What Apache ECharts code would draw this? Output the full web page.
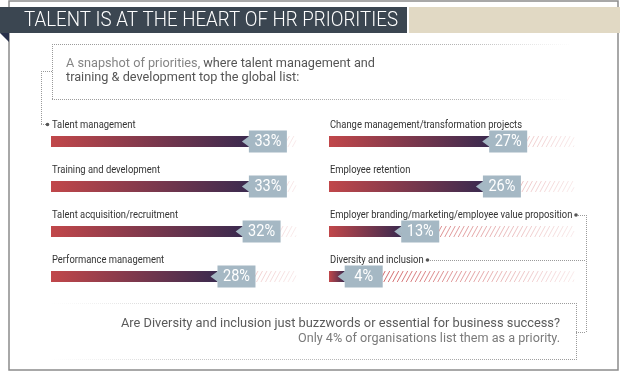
<!DOCTYPE html>
<html><head><meta charset="utf-8">
<script src="https://cdn.jsdelivr.net/npm/echarts@6/dist/echarts.min.js"></script>
<style>html,body{margin:0;padding:0;background:#fff}#c{width:620px;height:372px}</style>
</head><body><div id="c"></div>
<script>
// ---- data ----
const leftCategories = ['Talent management', 'Training and development', 'Talent acquisition/recruitment', 'Performance management'];
const leftValues = [33, 33, 32, 28];
const rightCategories = ['Change management/transformation projects', 'Employee retention', 'Employer branding/marketing/employee value proposition', 'Diversity and inclusion'];
const rightValues = [27, 26, 13, 4];
const titleText = 'TALENT IS AT THE HEART OF HR PRIORITIES';
const subtitleLead = 'A snapshot of priorities, ';
const subtitleRest1 = 'where talent management and';
const subtitleLine2 = 'training & development top the global list:';
const noteLine1 = 'Are Diversity and inclusion just buzzwords or essential for business success?';
const noteLine2 = 'Only 4% of organisations list them as a priority.';

// ---- scales ----
const axisMin = 1.5, axisMax = 40.5;
const FONT = 'Roboto, "Liberation Sans", sans-serif';

const mctx = document.createElement('canvas').getContext('2d');
function fitScale(text, font, w) { mctx.font = font; return w / mctx.measureText(text).width; }

const labelFont = '10.5px ' + FONT;
const labelScale = fitScale('Change management/transformation projects', labelFont, 192);
const valueFont = '17px ' + FONT;
const valueScale = fitScale('33%', valueFont, 27);

function makeRender(cats) {
  return function (params, api) {
    const idx = api.value(1);
    const v = api.value(0);
    const s = api.coord([axisMin, idx]);
    const e = api.coord([v, idx]);
    const t = api.coord([axisMax, idx]);
    const yc = s[1], h = 11, y0 = yc - h / 2, y1 = yc + h / 2;
    const ch = [];
    // hatched remainder, fading to the right
    const step = 4.5, slant = 6, k = h / slant;
    const startX = e[0], endX = t[0];
    for (let x = startX - slant; x < endX; x += step) {
      let bx = x, by = y1, tx = x + slant, ty = y0;
      if (bx < startX) { by = y1 - (startX - bx) * k; bx = startX; }
      if (tx > endX) { ty = y0 + (tx - endX) * k; tx = endX; }
      if (tx <= bx) continue;
      const r = Math.min(1, Math.max(0, ((bx + tx) / 2 - s[0]) / (t[0] - s[0])));
      const a = Math.max(0.08, 0.95 - 0.85 * r);
      ch.push({ type: 'line', shape: { x1: bx, y1: by, x2: tx, y2: ty },
        style: { stroke: 'rgba(196,60,62,' + a.toFixed(3) + ')', lineWidth: 1 } });
    }
    // gradient bar
    ch.push({ type: 'rect', shape: { x: s[0], y: y0, width: Math.max(0, e[0] - s[0]), height: h },
      style: { fill: { type: 'linear', x: 0, y: 0, x2: 1, y2: 0,
        colorStops: [{ offset: 0, color: '#c1474a' }, { offset: 1, color: '#3b2a4f' }] } } });
    // arrow + box
    ch.push({ type: 'polygon', shape: { points: [[e[0] - 7, yc], [e[0] + 0.5, yc - 5.5], [e[0] + 0.5, yc + 5.5]] },
      style: { fill: '#a5b8c4' } });
    ch.push({ type: 'rect', shape: { x: e[0], y: yc - 11, width: 38, height: 22 }, style: { fill: '#a5b8c4' } });
    ch.push({ type: 'text', x: e[0] + 19, y: yc + 0.5, scaleX: valueScale,
      style: { text: v + '%', x: 0, y: 0, fill: '#ffffff', font: valueFont,
        align: 'center', verticalAlign: 'middle', textAlign: 'center', textVerticalAlign: 'middle' } });
    // category label
    ch.push({ type: 'text', x: s[0] + 1, y: yc - 16.5, scaleX: labelScale,
      style: { text: cats[idx], x: 0, y: 0, fill: '#333333', font: labelFont,
        align: 'left', verticalAlign: 'middle', textAlign: 'left', textVerticalAlign: 'middle' } });
    return { type: 'group', children: ch };
  };
}

const dot = { lineDash: [1, 1], stroke: '#9a9a9a', lineWidth: 1 };
function hline(x1, x2, y, style) { return { type: 'line', shape: { x1: x1, y1: y, x2: x2, y2: y }, style: Object.assign({}, dot, style || {}), silent: true }; }
function vline(x, y1, y2) { return { type: 'line', shape: { x1: x, y1: y1, x2: x, y2: y2 }, style: Object.assign({}, dot), silent: true }; }
const fadeRight = { type: 'linear', x: 0, y: 0, x2: 1, y2: 0, colorStops: [{ offset: 0, color: '#9a9a9a' }, { offset: 0.8, color: '#b5b5b5' }, { offset: 1, color: 'rgba(200,200,200,0)' }] };
const fadeLeft = { type: 'linear', x: 0, y: 0, x2: 1, y2: 0, colorStops: [{ offset: 0, color: 'rgba(220,220,220,0)' }, { offset: 0.25, color: '#c8c8c8' }, { offset: 1, color: '#9a9a9a' }] };

const titleFont = '300 20px ' + FONT;
const sub1Font = '12px ' + FONT;
const note1Font = '13px ' + FONT;
const note2Font = '12px ' + FONT;

const graphics = [
  { type: 'rect', shape: { x: 9, y: 1, width: 609, height: 369 }, style: { fill: 'none', stroke: '#8c8c8c', lineWidth: 1.5 }, silent: true },
  { type: 'rect', shape: { x: 0, y: 7, width: 407, height: 26 }, style: { fill: '#3b4651' } },
  { type: 'rect', shape: { x: 409, y: 7, width: 211, height: 26 }, style: { fill: '#e1d9c4' } },
  { type: 'polygon', shape: { points: [[0, 33], [9, 33], [9, 42]] }, style: { fill: '#27304a' } },
  { type: 'text', x: 24, y: 20.5, scaleX: fitScale(titleText, titleFont, 374),
    style: { text: titleText, fill: '#ffffff', font: titleFont, textVerticalAlign: 'middle', verticalAlign: 'middle' } },
  // subtitle box
  hline(52, 570, 44.5, { stroke: fadeRight }),
  hline(52, 570, 99.5, { stroke: fadeRight }),
  vline(52.5, 44, 99),
  hline(41, 52, 71.5),
  vline(41.5, 71, 124),
  hline(41, 46, 124.5),
  { type: 'circle', shape: { cx: 47.5, cy: 124.5, r: 1.8 }, style: { fill: '#555' } },
  { type: 'text', x: 66, y: 64, scaleX: fitScale(subtitleLead + subtitleRest1, sub1Font, 309),
    style: { text: '{a|' + subtitleLead + '}{b|' + subtitleRest1 + '}', font: sub1Font, textVerticalAlign: 'middle', verticalAlign: 'middle',
      rich: { a: { fill: '#858585', font: sub1Font }, b: { fill: '#555555', font: sub1Font } } } },
  { type: 'text', x: 66, y: 78, scaleX: fitScale(subtitleLead + subtitleRest1, sub1Font, 309),
    style: { text: subtitleLine2, fill: '#555555', font: sub1Font, textVerticalAlign: 'middle', verticalAlign: 'middle' } },
  // right connectors
  { type: 'circle', shape: { cx: 576, cy: 215, r: 1.8 }, style: { fill: '#555' } },
  hline(578, 586, 215.5),
  { type: 'circle', shape: { cx: 427.5, cy: 260, r: 1.8 }, style: { fill: '#555' } },
  hline(430, 586, 260.5),
  vline(586.5, 215, 332),
  hline(576, 586, 332.5),
  // note box
  hline(52, 577, 303.5, { stroke: fadeLeft }),
  hline(52, 577, 359.5, { stroke: fadeLeft }),
  vline(576.5, 303, 359),
  { type: 'text', x: 560, y: 323.5, scaleX: fitScale(noteLine1, note1Font, 439),
    style: { text: noteLine1, fill: '#5a5a5a', font: note1Font, textAlign: 'right', align: 'right', textVerticalAlign: 'middle', verticalAlign: 'middle' } },
  { type: 'text', x: 560, y: 338.8, scaleX: fitScale(noteLine2, note2Font, 262),
    style: { text: noteLine2, fill: '#7a7a7a', font: note2Font, textAlign: 'right', align: 'right', textVerticalAlign: 'middle', verticalAlign: 'middle' } }
];

const chart = echarts.init(document.getElementById('c'), null, { renderer: 'canvas' });
chart.setOption({
  animation: false,
  grid: [
    { left: 51, width: 245, top: 119, height: 180 },
    { left: 329, width: 245, top: 119, height: 180 }
  ],
  xAxis: [
    { type: 'value', gridIndex: 0, min: axisMin, max: axisMax, show: false },
    { type: 'value', gridIndex: 1, min: axisMin, max: axisMax, show: false }
  ],
  yAxis: [
    { type: 'category', gridIndex: 0, data: leftCategories, inverse: true, show: false },
    { type: 'category', gridIndex: 1, data: rightCategories, inverse: true, show: false }
  ],
  series: [
    { type: 'custom', xAxisIndex: 0, yAxisIndex: 0, clip: false, renderItem: makeRender(leftCategories),
      encode: { x: 0, y: 1 }, data: leftValues.map((v, i) => [v, i]) },
    { type: 'custom', xAxisIndex: 1, yAxisIndex: 1, clip: false, renderItem: makeRender(rightCategories),
      encode: { x: 0, y: 1 }, data: rightValues.map((v, i) => [v, i]) }
  ],
  graphic: graphics
});
</script></body></html>
